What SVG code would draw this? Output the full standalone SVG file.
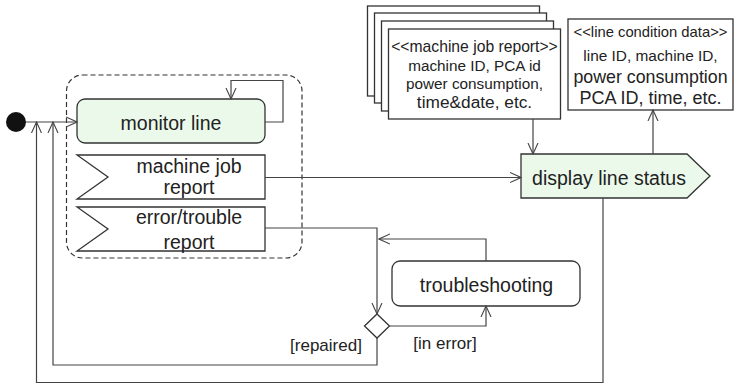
<svg xmlns="http://www.w3.org/2000/svg" width="736" height="383" viewBox="0 0 736 383">
<style>
text{font-family:"Liberation Sans",Arial,sans-serif;fill:#222;text-anchor:middle;dominant-baseline:central}
.big{font-size:19.5px}
.lbl{font-size:17px}
.shape{stroke:#333;stroke-width:1.3;fill:#fff}
.act{stroke:#333;stroke-width:1.3;fill:#ebf9eb}
.line{stroke:#444;stroke-width:1.2;fill:none}
</style>
<defs>
<marker id="arr" viewBox="0 0 12 12" refX="11" refY="6" markerWidth="12" markerHeight="12" markerUnits="userSpaceOnUse" orient="auto">
<path d="M0,1 L11,6 L0,11" fill="none" stroke="#444" stroke-width="1.1"/>
</marker>
</defs>
<rect x="0" y="0" width="736" height="383" fill="#fff"/>
<g id="region">
<rect x="66.5" y="75" width="235.5" height="183" rx="16" fill="none" stroke="#333" stroke-width="1.2" stroke-dasharray="5,3"/>
</g>
<g id="initial">
<circle cx="16" cy="122" r="10" fill="#111"/>
</g>
<g id="monitor-line">
<rect class="act" x="77" y="99" width="188" height="44" rx="8"/>
<text class="big" x="171" y="122.5">monitor line</text>
</g>
<g id="machine-job-report">
<path class="shape" d="M77,155 L265,155 L265,199 L77,199 L108,177 Z"/>
<text class="big" x="189" y="166">machine job</text>
<text class="big" x="189" y="186.5">report</text>
</g>
<g id="error-report">
<path class="shape" d="M77,207 L265,207 L265,251 L77,251 L108,229 Z"/>
<text class="big" x="189" y="217">error/trouble</text>
<text class="big" x="189" y="241.5">report</text>
</g>
<g id="display-line-status">
<path class="act" d="M521,154 L687,154 L710,176 L687,198 L521,198 Z"/>
<text class="big" x="609" y="177.5">display line status</text>
</g>
<g id="troubleshooting">
<rect class="shape" x="392" y="261" width="188" height="45" rx="8"/>
<text class="big" x="486.5" y="284.5">troubleshooting</text>
</g>
<g id="decision">
<path class="shape" d="M377,314 L389.5,326 L377,338 L364.5,326 Z"/>
</g>
<g id="job-report-note">
<rect class="shape" x="367.5" y="6" width="172" height="90"/>
<rect class="shape" x="374.5" y="13" width="172" height="90"/>
<rect class="shape" x="381.5" y="21" width="172" height="90"/>
<rect class="shape" x="388.5" y="29" width="172" height="90"/>
<text x="474.5" y="46" font-size="15.7">&lt;&lt;machine job report&gt;&gt;</text>
<text x="474.5" y="65" font-size="15.3">machine ID, PCA id</text>
<text x="474.5" y="83.5" font-size="15.3">power consumption,</text>
<text x="474.5" y="102" font-size="17.3">time&amp;date, etc.</text>
</g>
<g id="line-condition-note">
<rect class="shape" x="568" y="19" width="165" height="91"/>
<text x="650.5" y="32" font-size="14.8">&lt;&lt;line condition data&gt;&gt;</text>
<text x="650.5" y="55" font-size="15.4">line ID, machine ID,</text>
<text x="650.5" y="77" font-size="17.8">power consumption</text>
<text x="650.5" y="97.5" font-size="18">PCA ID, time, etc.</text>
</g>
<g id="guards">
<text class="lbl" x="326" y="345">[repaired]</text>
<text class="lbl" x="445" y="343">[in error]</text>
</g>
<g id="connectors">
<path class="line" d="M26,122 L77,122" marker-end="url(#arr)"/>
<path class="line" d="M265,122 L283,122 L283,80.5 L231,80.5 L231,99" marker-end="url(#arr)"/>
<path class="line" d="M265,177.5 L521,177.5" marker-end="url(#arr)"/>
<path class="line" d="M265,228 L377,228 L377,314" marker-end="url(#arr)"/>
<path class="line" d="M389.5,326 L486,326 L486,306" marker-end="url(#arr)"/>
<path class="line" d="M486,261 L486,239 L379,239" marker-end="url(#arr)"/>
<path class="line" d="M377,338 L377,365 L53,365 L53,122" marker-end="url(#arr)"/>
<path class="line" d="M603,198 L603,382.5 L36.5,382.5 L36.5,122" marker-end="url(#arr)"/>
<path class="line" d="M533,119 L533,154" marker-end="url(#arr)"/>
<path class="line" d="M653,154 L653,110" marker-end="url(#arr)"/>
</g>
</svg>
